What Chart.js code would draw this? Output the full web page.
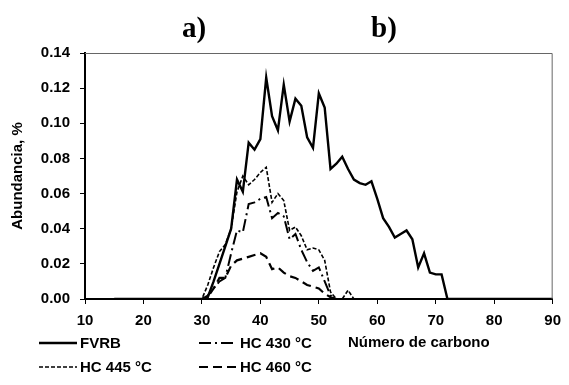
<!DOCTYPE html>
<html lang="es">
<head>
    <meta charset="UTF-8">
    <title>Abundancia por número de carbono</title>
    <script src="https://cdn.jsdelivr.net/npm/chart.js@4.4.1/dist/chart.umd.min.js"></script>
    <style>
        html, body { margin: 0; padding: 0; background: #fff; }
    </style>
</head>
<body>
    <canvas id="grafico" width="569" height="385"></canvas>

    <script>
        // numero de carbono (C15 - C90)
        var carbonos = [15, 16, 17, 18, 19, 20, 21, 22, 23, 24, 25, 26, 27, 28, 29,
            30, 31, 32, 33, 34, 35, 36, 37, 38, 39, 40, 41, 42, 43, 44, 45, 46, 47, 48, 49,
            50, 51, 52, 53, 54, 55, 56, 57, 58, 59, 60, 61, 62, 63, 64, 65, 66, 67, 68, 69,
            70, 71, 72, 73, 74, 75, 76, 77, 78, 79, 80, 81, 82, 83, 84, 85, 86, 87, 88, 89, 90];

        // abundancia, % (mismo orden que carbonos)
        var fvrb = [0, 0, 0, 0, 0, 0, 0, 0, 0, 0, 0, 0, 0, 0, 0,
            0, 0.001, 0.010, 0.020, 0.030, 0.040, 0.068, 0.061, 0.089, 0.085,
            0.091, 0.126, 0.104, 0.096, 0.122, 0.101, 0.114, 0.110, 0.092, 0.086,
            0.117, 0.109, 0.074, 0.077, 0.081, 0.074, 0.068, 0.066, 0.065, 0.067,
            0.057, 0.046, 0.041, 0.035, 0.037, 0.039, 0.034, 0.018, 0.026, 0.015,
            0.014, 0.014, 0, 0, 0, 0, 0, 0, 0, 0, 0, 0, 0, 0, 0, 0, 0, 0, 0, 0, 0];
        var hc430 = [0, 0, 0, 0, 0, 0, 0, 0, 0, 0, 0, 0, 0, 0, 0,
            0, 0.002, 0.006, 0.010, 0.012, 0.026, 0.039, 0.038, 0.054, 0.055,
            0.057, 0.058, 0.046, 0.049, 0.047, 0.034, 0.037, 0.028, 0.021, 0.016,
            0.018, 0.010, 0.002, 0, 0, 0, 0, 0, 0, 0,
            0, 0, 0, 0, 0, 0, 0, 0, 0, 0,
            0, 0, 0, 0, 0, 0, 0, 0, 0, 0, 0, 0, 0, 0, 0, 0, 0, 0, 0, 0, 0];
        var hc445 = [0, 0, 0, 0, 0, 0, 0, 0, 0, 0, 0, 0, 0, 0, 0,
            0, 0.008, 0.018, 0.027, 0.031, 0.040, 0.061, 0.070, 0.065, 0.068,
            0.072, 0.075, 0.055, 0.060, 0.056, 0.039, 0.041, 0.036, 0.028, 0.029,
            0.028, 0.022, 0.004, 0, 0, 0.005, 0, 0, 0, 0,
            0, 0, 0, 0, 0, 0, 0, 0, 0, 0,
            0, 0, 0, 0, 0, 0, 0, 0, 0, 0, 0, 0, 0, 0, 0, 0, 0, 0, 0, 0, 0];
        var hc460 = [0, 0, 0, 0, 0, 0, 0, 0, 0, 0, 0, 0, 0, 0, 0,
            0, 0.001, 0.006, 0.012, 0.012, 0.019, 0.022, 0.023, 0.024, 0.025,
            0.026, 0.024, 0.017, 0.018, 0.015, 0.013, 0.012, 0.010, 0.008, 0.007,
            0.006, 0.003, 0.001, 0, 0, 0, 0, 0, 0, 0,
            0, 0, 0, 0, 0, 0, 0, 0, 0, 0,
            0, 0, 0, 0, 0, 0, 0, 0, 0, 0, 0, 0, 0, 0, 0, 0, 0, 0, 0, 0, 0];

        var series = ['FVRB', 'HC 430 °C', 'HC 445 °C', 'HC 460 °C'];
        var etiquetasPanel = ['a)', 'b)'];
        var tituloX = 'Número de carbono';
        var tituloY = 'Abundancia, %';

        var fuente = '"Liberation Sans", Arial, sans-serif';

        function puntos(valores) {
            return carbonos.map(function (c, i) { return { x: c, y: valores[i] }; });
        }

        // marco gris (arriba y derecha) del area de trazado
        var marco = {
            id: 'marco',
            afterDatasetsDraw: function (chart) {
                var a = chart.chartArea, ctx = chart.ctx;
                ctx.save();
                ctx.strokeStyle = '#666';
                ctx.lineWidth = 1;
                ctx.beginPath();
                ctx.moveTo(a.left, a.top + 0.5);
                ctx.lineTo(a.right - 0.5, a.top + 0.5);
                ctx.lineTo(a.right - 0.5, a.bottom);
                ctx.stroke();
                ctx.restore();
            }
        };

        // leyenda en dos columnas, titulo del eje x y etiquetas a) b)
        var rotulos = {
            id: 'rotulos',
            afterDraw: function (chart) {
                var ctx = chart.ctx;
                var pos = [[39, 343], [199, 343], [39, 367], [199, 367]];
                ctx.save();
                ctx.font = 'bold 15px ' + fuente;
                ctx.fillStyle = '#000';
                ctx.textBaseline = 'middle';
                chart.data.datasets.forEach(function (ds, i) {
                    var p = pos[i];
                    ctx.strokeStyle = '#000';
                    ctx.lineWidth = ds.borderWidth;
                    ctx.setLineDash(ds.borderDash || []);
                    ctx.beginPath();
                    ctx.moveTo(p[0], p[1]);
                    ctx.lineTo(p[0] + 38, p[1]);
                    ctx.stroke();
                    ctx.setLineDash([]);
                    ctx.textAlign = 'left';
                    ctx.fillText(ds.label, p[0] + 41, p[1] + 1);
                });
                ctx.fillText(tituloX, 348, 343);

                ctx.font = 'bold 29px "Liberation Serif", "Times New Roman", serif';
                ctx.textAlign = 'center';
                ctx.textBaseline = 'alphabetic';
                ctx.fillText(etiquetasPanel[0], 194, 37);
                ctx.fillText(etiquetasPanel[1], 384, 37);
                ctx.restore();
            }
        };

        var ctx = document.getElementById('grafico').getContext('2d');
        var chart = new Chart(ctx, {
            type: 'line',
            data: {
                datasets: [{
                    label: series[0],
                    data: puntos(fvrb),
                    borderColor: '#000',
                    borderWidth: 2.4,
                    borderDash: []
                }, {
                    label: series[1],
                    data: puntos(hc430),
                    borderColor: '#000',
                    borderWidth: 2,
                    borderDash: [12, 4, 2, 4]
                }, {
                    label: series[2],
                    data: puntos(hc445),
                    borderColor: '#000',
                    borderWidth: 1.6,
                    borderDash: [4, 2]
                }, {
                    label: series[3],
                    data: puntos(hc460),
                    borderColor: '#000',
                    borderWidth: 2.2,
                    borderDash: [9, 5]
                }]
            },
            options: {
                responsive: false,
                animation: false,
                devicePixelRatio: 1,
                layout: { padding: { top: 53, right: 10, left: 0, bottom: 0 } },
                elements: {
                    line: { tension: 0, fill: false },
                    point: { radius: 0 }
                },
                plugins: {
                    legend: { display: false },
                    tooltip: { enabled: false }
                },
                scales: {
                    x: {
                        type: 'linear',
                        min: 10,
                        max: 90,
                        afterFit: function (s) { s.height = 86; },
                        border: { color: '#000', width: 2 },
                        grid: { drawOnChartArea: false, color: '#000', tickLength: 5 },
                        ticks: {
                            stepSize: 10,
                            padding: 8,
                            color: '#000',
                            maxRotation: 0,
                            font: { family: fuente, size: 15, weight: 'bold' }
                        }
                    },
                    y: {
                        min: 0,
                        max: 0.14,
                        afterFit: function (s) { s.width = 85; },
                        border: { color: '#000', width: 2 },
                        grid: { drawOnChartArea: false, color: '#000', tickLength: 5 },
                        ticks: {
                            stepSize: 0.02,
                            padding: 10,
                            color: '#000',
                            font: { family: fuente, size: 15, weight: 'bold' },
                            callback: function (v) { return v.toFixed(2); }
                        },
                        title: {
                            display: true,
                            text: tituloY,
                            color: '#000',
                            padding: { top: 9, bottom: 0 },
                            font: { family: fuente, size: 15, weight: 'bold' }
                        }
                    }
                }
            },
            plugins: [marco, rotulos]
        });
    </script>
</body>
</html>
